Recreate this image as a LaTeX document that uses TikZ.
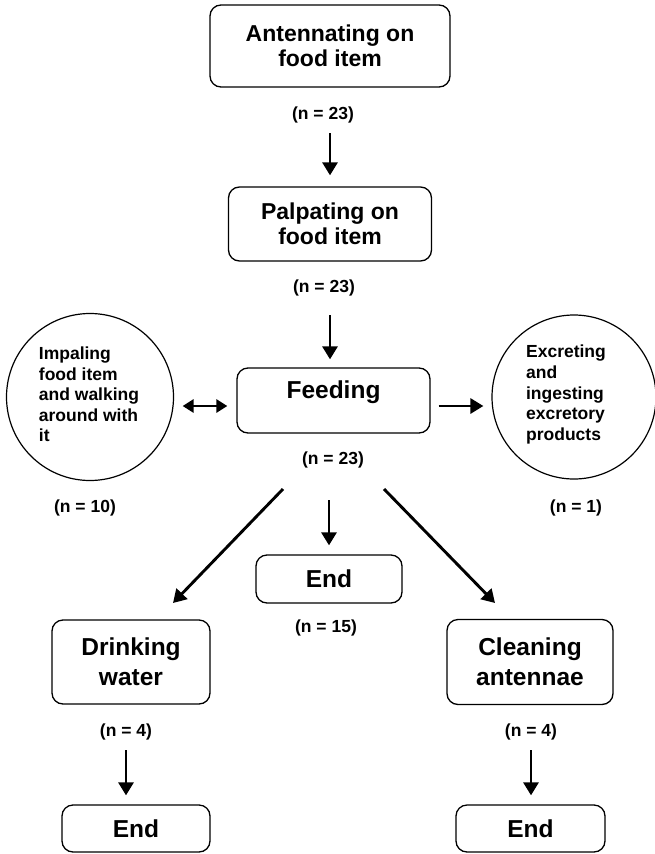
\documentclass[tikz,border=0pt]{standalone}
\usepackage{fontspec}
\setmainfont{Liberation Sans}
\usetikzlibrary{arrows.meta,calc}
\begin{document}
\begin{tikzpicture}[x=1pt,y=-1pt,
  box/.style={draw, rounded corners=11pt, line width=1.3pt, inner sep=0pt, align=center, font=\fontsize{23}{25.5}\selectfont\bfseries},
  bigbox/.style={box, font=\fontsize{24.5}{30}\selectfont\bfseries},
  cnt/.style={inner sep=0pt, font=\fontsize{17.5}{20}\selectfont\bfseries},
  ring/.style={draw, circle, line width=1.2pt, inner sep=0pt, minimum size=167pt},
  ctext/.style={align=left, inner sep=0pt, font=\fontsize{17.5}{20.6}\selectfont\bfseries},
  arr/.style={line width=2.9pt, -{Triangle[length=13pt,width=15pt]}},
  darr/.style={line width=2.9pt, {Triangle[length=11pt,width=13pt]}-{Triangle[length=11pt,width=13pt]}}
]
\useasboundingbox (0,0) rectangle (654,854);

\node[box, minimum width=240pt, minimum height=82pt] (ant) at (330,46) {Antennating on\\food item};
\node[cnt] (n1) at (323,115) {(n = 23)};
\node[box, minimum width=203pt, minimum height=74pt] (pal) at (330,224) {Palpating on\\food item};
\node[cnt] (n2) at (324,288) {(n = 23)};
\node[box, minimum width=193pt, minimum height=65pt,
  label={[font=\fontsize{24.5}{30}\selectfont\bfseries, yshift=8.5pt]center:Feeding}] (feed) at (333.5,400.5) {};
\node[cnt] (n3) at (333,460) {(n = 23)};

\node[ring, label={[ctext, xshift=-1pt, yshift=2.5pt]center:{Impaling\\food item\\and walking\\around with\\it}}] (imp) at (90,397) {};
\node[ring, minimum size=164pt, label={[ctext, xshift=-8pt, yshift=2.5pt]center:{Excreting\\and\\ingesting\\excretory\\products}}] (exc) at (574,397) {};
\node[cnt] (n10) at (85,508) {(n = 10)};
\node[cnt] (n1b) at (576,508) {(n = 1)};

\node[bigbox, minimum width=146pt, minimum height=48pt] (end1) at (329,579) {End};
\node[cnt] (n15) at (326,628) {(n = 15)};
\node[bigbox, minimum width=158pt, minimum height=84pt] (drink) at (131,662) {Drinking\\water};
\node[bigbox, minimum width=166pt, minimum height=85pt] (clean) at (530,662) {Cleaning\\antennae};
\node[cnt] (n4a) at (126,732) {(n = 4)};
\node[cnt] (n4b) at (531,732) {(n = 4)};
\node[bigbox, minimum width=148pt, minimum height=47pt] (end2) at (136,828.5) {End};
\node[bigbox, minimum width=149pt, minimum height=47pt] (end3) at (530.5,828.5) {End};

\coordinate (dl) at (283,489);
\coordinate (dlt) at (173,603);
\coordinate (dr) at (384,489);
\coordinate (drt) at (495,603);

\draw[arr, shorten <=10pt, shorten >=11pt] (n1.south -| ant.south) -- (pal.north);
\draw[arr, shorten <=19pt, shorten >=8pt] (n2.south -| pal.south) -- (pal.south |- feed.north);
\draw[darr, shorten <=8.5pt, shorten >=9pt] ([yshift=-9pt]imp.east) -- ([yshift=-9pt]imp.east -| feed.west);
\draw[arr, shorten <=8pt, shorten >=8pt] ([yshift=-5.5pt]feed.east) -- ([yshift=-5.5pt]feed.east -| exc.west);
\draw[arr, shorten <=32pt, shorten >=9pt] (n3.south -| end1.north) -- (end1.north);
\draw[arr] (dl) -- (dlt);
\draw[arr] (dr) -- (drt);
\draw[arr, shorten <=10pt, shorten >=9pt] (n4a.south) -- (n4a.south |- end2.north);
\draw[arr, shorten <=10pt, shorten >=9pt] (n4b.south) -- (n4b.south |- end3.north);
\end{tikzpicture}
\end{document}
